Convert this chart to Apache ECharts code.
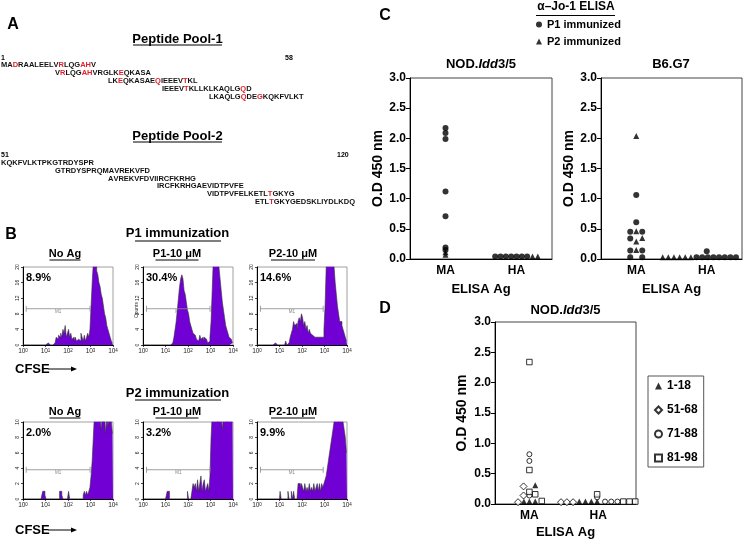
<!DOCTYPE html>
<html><head><meta charset="utf-8">
<script src="https://cdn.jsdelivr.net/npm/echarts@6.0.0/dist/echarts.min.js"></script>
<style>html,body{margin:0;padding:0;background:#fff}#c{width:746px;height:542px}</style>
</head><body><div id="c"></div>
<script>
// ================= DATA =================
// Panel A: peptide sequences (red = highlighted residues, 0-based index)
const pool1Lines = ['MADRAALEELVRLQGAHV','VRLQGAHVRGLKEQKASA','LKEQKASAEQIEEEVTKL','IEEEVTKLLKLKAQLGQD','LKAQLGQDEGKQKFVLKT'];
const pool1Red = [[2,11,15,16],[1,5,6,12],[2,9,15],[5,16],[6,9]];
const pool2Lines = ['KQKFVLKTPKGTRDYSPR','GTRDYSPRQMAVREKVFD','AVREKVFDVIIRCFKRHG','IRCFKRHGAEVIDTPVFE','VIDTPVFELKETLTGKYG','ETLTGKYGEDSKLIYDLKDQ'];
const pool2Red = [[],[],[],[],[13],[3]];

// Panel B: CFSE histograms, counts per channel, channels at log10 = 0,0.05,...,4
const hP1NoAg = [0,0,0,0,0,0,0,0,0,0, 0,0,0,0,0,0,0,0,0,0, 0,0,0.5,1,0,0,0,0,0.5,1, 2,1.5,2.5,2,3,2,4,3,5,2, 3,4,2,3,1.5,2,1,2,1,1.5, 2,1,3,2,1,2.5,1,2,3,2, 4,10,16,21,22,22,19,18,16,15, 13,12,10,8,7,5,4,3,2,1, 0.5];
const hP1Pep1 = [0,0,0,0,0,0,0,0,0,0, 0,0,0,0,0,0,0,0,0,0, 0,0,0,0.5,0,0,0.5,1,2,4, 6,9,12,15,17,18,17,14,13,11, 9,8,6,5,4,3,2.5,2,1.5,1, 1.5,2.5,1.5,2,1,2,1.5,1,0.5,1, 2,6,14,22,22,22,22,22,20,17, 14,11,9,7,5,4,3,2,1.5,1, 0.5];
const hP1Pep2 = [0,0,0,0,0,0,0,0,0,0, 0,0,0,0,0,0,0.5,0,0,0, 0,0,0,0,0,0,1,0,0.5,1, 2,3,4,6,5,5.5,4,6,7,6, 8,7,5,6,4,5,3,4,3,2.5, 3,2,2.5,2,1.5,2,1.5,2,1.5,2, 4,10,20,22,22,22,22,22,22,20, 16,13,10,8,6,6,5,4,3,2, 1];
const hP2NoAg = [0,0,0,0,0,0,0,0,0,0, 0,0,0,0,0,0,0,0,1,1, 0.5,0,0,0,0,0,0,0,0,0, 0,0,0,1,1,0.5,0,0,0,0, 0,1,0,0,0,0,0,0,0,0, 0,0,0,0,0.5,1,0.5,1,0.5,1, 1.5,3,5,8,11,11,11,11,10.5,11, 9,11,10,11,8.5,11,9.5,11,11,10, 8.5];
const hP2Pep1 = [0,0,0,0,0,0,0,0,0,0, 0,0,0,0,0,0,0,0,0,0, 0,0,1,1,0,0,0,0,0,0, 0,0,0,0,0,0,0,0,0,0, 1,0,0,0,1,2,1.5,2,1,2.5, 1,2,3,1,2,2.5,1,1.5,2,1, 3,8,11,11,11,11,11,10,11,11, 11,9,11,11,11,10,11,11,11,11, 11];
const hP2Pep2 = [0,0,0,0,0,0,0,0,0,0, 0,0,0,0,0,0,0,0,0,0, 0,1,0,0,0,0,0,0,1,0, 0,1,0,1,0,0,0,2,2,1.5, 2,1.5,1,2,1,1.5,1,2,1,1.5, 1,2,1,1.5,2,1,2,1,2,1.5, 2,2.5,3,4,5,6,7,8,9,10, 11,11,11,10,11,11,11,10,9,8, 6];
const histTitles = ['No Ag', 'P1-10 \u03bcM', 'P2-10 \u03bcM'];
const pctTop = ['8.9%', '30.4%', '14.6%'];
const pctBottom = ['2.0%', '3.2%', '9.9%'];
const m1Gate = [[0.14, 2.98], [0.16, 2.98], [0.15, 2.94]];   // log10 gate bounds
const m1LevelTop = 9.3, m1LevelBottom = 3.8;
const histYMaxTop = 20, histYMaxBottom = 10;

// Panel C / D: ELISA, points [category index, jitter, O.D 450]
const elisaCategories = ['MA', 'HA'];
const c1P1 = [[0,0,2.17],[0,0,2.09],[0,0,1.99],[0,0,1.12],[0,0,0.71],[0,0,0.19],[0,0,0.15],
  [1,-0.6,0.04],[1,-0.45,0.04],[1,-0.3,0.04],[1,-0.15,0.04],[1,0,0.04],[1,0.15,0.04],[1,0.3,0.04]];
const c1P2 = [[0,0,0.11],[0,0,0.07],[1,0.45,0.04],[1,0.6,0.04]];
const c2P1 = [[0,0,1.06],[0,0,0.61],[0,-0.17,0.45],[0,0.17,0.45],[0,-0.17,0.34],[0,-0.17,0.14],[0,0.17,0.14],[0,-0.17,0.03],[0,0.17,0.03],
  [1,-0.29,0.03],[1,-0.13,0.03],[1,0.03,0.03],[1,0.19,0.03],[1,0.35,0.03],[1,0.51,0.03],[1,0.67,0.03],[1,0.83,0.03],[1,0.0,0.13]];
const c2P2 = [[0,0,2.04],[0,0,0.46],[0,0,0.29],[0,0.17,0.35],[0,0,0.15],
  [1,-1.25,0.03],[1,-1.09,0.03],[1,-0.93,0.03],[1,-0.77,0.03],[1,-0.61,0.03],[1,-0.45,0.03]];
const d118 = [[0,-0.16,0.04],[0,0,0.04],[0,0.17,0.04],[0,0.17,0.31],[1,-0.55,0.04],[1,-0.37,0.04],[1,-0.2,0.04],[1,-0.03,0.04]];
const d5168 = [[0,-0.33,0.03],[0,-0.17,0.29],[0,-0.17,0.14],[1,-1.08,0.03],[1,-0.91,0.03],[1,-0.73,0.03]];
const d7188 = [[0,0,0.82],[0,0,0.71],[0,0,0.14],[1,-0.03,0.11],[1,0.2,0.04],[1,0.38,0.04],[1,0.56,0.04]];
const d8198 = [[0,0,2.34],[0,0,0.56],[0,0,0.20],[0,0.17,0.16],[0,0.36,0.05],[1,-0.03,0.16],[1,0.73,0.04],[1,0.91,0.04],[1,1.08,0.04]];

// ================= CHART =================
const FONT = '"Liberation Sans", Arial, Helvetica, sans-serif';
const PURPLE = '#7100d4';
const RED = '#e0202a';
const chart = echarts.init(document.getElementById('c'), null, {renderer: 'canvas', width: 746, height: 542});

const channel = hP1NoAg.map((_, i) => i / 20);
const catX = (c) => 1 + 2 * c;
const toXY = (arr) => arr.map(p => [catX(p[0]) + p[1], p[2]]);

const grids = [], xAxes = [], yAxes = [], series = [], g = [];
function txt(x, y, text, size, extra) {
  return Object.assign({type: 'text', x, y, silent: true, style: Object.assign({text, fill: '#000', fontSize: size, fontWeight: 'bold', fontFamily: FONT, align: 'center', verticalAlign: 'middle'}, (extra || {}))});
}
function ln(x1, y1, x2, y2, w, c) {
  return {type: 'line', silent: true, shape: {x1, y1, x2, y2}, style: {stroke: c || '#000', lineWidth: w || 1}};
}

// ---- Histograms ----
const histLefts = [23, 143, 257];
const histRows = [
  {top: 267, h: 78, data: [hP1NoAg, hP1Pep1, hP1Pep2], ymax: histYMaxTop, m1: m1LevelTop},
  {top: 422, h: 77, data: [hP2NoAg, hP2Pep1, hP2Pep2], ymax: histYMaxBottom, m1: m1LevelBottom}
];
histRows.forEach((row, r) => {
  row.data.forEach((counts, k) => {
    const gi = grids.length;
    grids.push({left: histLefts[k], top: row.top, width: 90, height: row.h, show: true, borderColor: '#888', borderWidth: 0.8, backgroundColor: 'transparent', outerBoundsMode: 'none'});
    xAxes.push({gridIndex: gi, type: 'value', min: 0, max: 4, interval: 1,
      axisLine: {lineStyle: {color: '#000', width: 1}}, axisTick: {length: 2, lineStyle: {color: '#000', width: 0.7}},
      splitLine: {show: false},
      axisLabel: {margin: 3, color: '#222', fontSize: 6.5, fontFamily: FONT, formatter: v => '10{s|' + v + '}',
        rich: {s: {fontSize: 4.5, verticalAlign: 'top', fontFamily: FONT, color: '#222'}}}});
    yAxes.push({gridIndex: gi, type: 'value', min: 0, max: row.ymax, interval: row.ymax / 5,
      axisLine: {show: true, lineStyle: {color: '#000', width: 1}}, axisTick: {show: true, length: 2, lineStyle: {color: '#000', width: 0.7}},
      splitLine: {show: false},
      axisLabel: {fontSize: 5, rotate: 90, margin: 3, color: '#222', fontFamily: FONT}});
    series.push({type: 'line', xAxisIndex: gi, yAxisIndex: gi, step: 'middle', symbol: 'none', clip: true, silent: true,
      data: counts.map((c, i) => [channel[i], c]),
      lineStyle: {color: '#333', width: 0.6}, areaStyle: {color: PURPLE, opacity: 1}});
    series.push({type: 'line', xAxisIndex: gi, yAxisIndex: gi, symbol: 'rect', symbolSize: [0.8, 6], silent: true,
      data: [[m1Gate[k][0], row.m1], [m1Gate[k][1], row.m1]],
      lineStyle: {color: '#888', width: 0.8}, itemStyle: {color: '#888'}});
    series.push({type: 'scatter', xAxisIndex: gi, yAxisIndex: gi, symbolSize: 0, silent: true,
      data: [[(m1Gate[k][0] + m1Gate[k][1]) / 2, row.m1]],
      label: {show: true, formatter: 'M1', position: 'bottom', distance: 1, fontSize: 4.5, color: '#666', fontFamily: FONT}});
    g.push(txt(histLefts[k] + 3, row.top + 11, (r === 0 ? pctTop : pctBottom)[k], 11, {align: 'left'}));
  });
});
g.push(Object.assign(txt(136.5, 310, 'Counts', 5, {fontWeight: 'normal', fill: '#333'}), {rotation: Math.PI / 2}));

// ---- ELISA plots ----
function elisaGrid(left, top, width, height, xmax, nameGapY, nameGapX) {
  const gi = grids.length;
  grids.push({left, top, width, height, show: true, borderColor: '#444', borderWidth: 1, backgroundColor: 'transparent', outerBoundsMode: 'none'});
  xAxes.push({gridIndex: gi, type: 'value', min: 0, max: xmax,
    axisLine: {lineStyle: {color: '#000', width: 1}}, axisTick: {show: false}, splitLine: {show: false},
    axisLabel: {customValues: elisaCategories.map((c, i) => catX(i)), formatter: v => elisaCategories[(v - 1) / 2],
      fontSize: 12, fontWeight: 'bold', color: '#000', fontFamily: FONT, margin: 6},
    name: 'ELISA Ag', nameLocation: 'middle', nameGap: nameGapX,
    nameTextStyle: {fontSize: 13, fontWeight: 'bold', color: '#000', fontFamily: FONT}});
  yAxes.push({gridIndex: gi, type: 'value', min: 0, max: 3, interval: 0.5,
    axisLine: {show: true, lineStyle: {color: '#000', width: 1}},
    axisTick: {show: true, length: 4, lineStyle: {color: '#000'}}, splitLine: {show: false},
    axisLabel: {formatter: v => v.toFixed(1), fontSize: 12, fontWeight: 'bold', color: '#000', fontFamily: FONT, margin: 4},
    name: 'O.D 450 nm', nameLocation: 'middle', nameGap: nameGapY,
    nameTextStyle: {fontSize: 14, fontWeight: 'bold', color: '#000', fontFamily: FONT}});
  return gi;
}
const gC1 = elisaGrid(410, 78, 142, 181, 4, 22, 24);
const gC2 = elisaGrid(601, 78, 141, 181, 4, 22, 24);
const gD = elisaGrid(495, 322, 141, 182, 4.1, 26, 22);

const filled = {color: '#000'};
const hollow = {color: '#fff', borderColor: '#000', borderWidth: 1};
function sc(name, gi, data, symbol, size, style) {
  series.push({name, type: 'scatter', xAxisIndex: gi, yAxisIndex: gi, symbol, symbolSize: size, data: toXY(data), itemStyle: style, z: 5});
}
sc('P1 immunized', gC1, c1P1, 'circle', 6, filled);
sc('P2 immunized', gC1, c1P2, 'triangle', 6, filled);
sc('P1 immunized', gC2, c2P1, 'circle', 6, filled);
sc('P2 immunized', gC2, c2P2, 'triangle', 6, filled);
sc('1-18', gD, d118, 'triangle', 6, filled);
sc('51-68', gD, d5168, 'diamond', 7, hollow);
sc('71-88', gD, d7188, 'circle', 5, hollow);
sc('81-98', gD, d8198, 'rect', 5.5, hollow);

// ---- Text / annotations ----
g.push(txt(13, 25, 'A', 16));
g.push(txt(11, 235, 'B', 16));
g.push(txt(385, 16, 'C', 16));
g.push(txt(385, 309, 'D', 16));

// Panel A
g.push(txt(177.5, 39, 'Peptide Pool-1', 13));
g.push(ln(133, 45, 222, 45, 1));
g.push(txt(177.5, 136, 'Peptide Pool-2', 13));
g.push(ln(133, 142, 222, 142, 1));
const smallSeq = {fontSize: 7.5, fontWeight: 'bold', fontFamily: FONT, fill: '#111'};
g.push(txt(1, 58, '1', 7, {align: 'left'}));
g.push(txt(285, 58, '58', 7, {align: 'left'}));
g.push(txt(1, 155, '51', 7, {align: 'left'}));
g.push(txt(337, 155, '120', 7, {align: 'left'}));
function seqText(x, y, seq, red) {
  let s = '';
  for (let i = 0; i < seq.length; i++) s += red.includes(i) ? '{r|' + seq[i] + '}' : '{k|' + seq[i] + '}';
  g.push({type: 'text', x, y, silent: true, style: {text: s, align: 'left', verticalAlign: 'middle',
    fontSize: 7.5, fontWeight: 'bold', fontFamily: FONT, fill: '#111',
    rich: {k: Object.assign({}, smallSeq), r: Object.assign({}, smallSeq, {fill: RED})}}});
}
const pool1X = [1, 55, 108, 162, 209], pool1Y = [65, 73, 81, 89, 97];
pool1Lines.forEach((s, i) => seqText(pool1X[i], pool1Y[i], s, pool1Red[i]));
const pool2X = [1, 55, 108, 157, 207, 255], pool2Y = [163, 171, 178.5, 186, 194, 201.5];
pool2Lines.forEach((s, i) => seqText(pool2X[i], pool2Y[i], s, pool2Red[i]));

// Panel B headers
g.push(txt(177.5, 233, 'P1 immunization', 13));
g.push(ln(135, 241, 221, 241, 1));
g.push(txt(177.5, 393, 'P2 immunization', 13));
g.push(ln(135, 400, 221, 400, 1));
const subCenters = [65, 177, 293], subHalf = [15.5, 21.5, 22];
[254, 412].forEach((yy) => {
  histTitles.forEach((t, k) => {
    g.push(txt(subCenters[k], yy, t, 11));
    g.push(ln(subCenters[k] - subHalf[k], yy + 6, subCenters[k] + subHalf[k], yy + 6, 1));
  });
});
[369, 530].forEach((yy) => {
  g.push(txt(15, yy, 'CFSE', 13, {align: 'left'}));
  g.push(ln(48, yy, 72, yy, 1));
  g.push({type: 'polygon', silent: true, shape: {points: [[71, yy - 2.5], [77, yy], [71, yy + 2.5]]}, style: {fill: '#000'}});
});

// Panel C header
g.push(txt(576, 7, '\u03b1\u2013Jo-1 ELISA', 12));
g.push(ln(536, 15.5, 615, 15.5, 1));
function plotTitle(cx, cy) {
  g.push({type: 'text', x: cx, y: cy, silent: true, style: {
    text: '{b|NOD.}{i|Idd}{b|3/5}', align: 'center', verticalAlign: 'middle',
    rich: {b: {fontSize: 13, fontWeight: 'bold', fontFamily: FONT, fill: '#000'},
           i: {fontSize: 13, fontWeight: 'bold', fontStyle: 'italic', fontFamily: FONT, fill: '#000'}}}});
}
plotTitle(481, 64);
g.push(txt(671, 64, 'B6.G7', 13));
plotTitle(565.5, 310);

const option = {
  animation: false,
  backgroundColor: '#fff',
  textStyle: {fontFamily: FONT},
  grid: grids, xAxis: xAxes, yAxis: yAxes, series,
  legend: [
    {data: ['P1 immunized', 'P2 immunized'], orient: 'vertical', left: 536, top: 19, itemWidth: 6, itemHeight: 6, itemGap: 6,
     padding: 0, selectedMode: false, textStyle: {fontSize: 11, fontWeight: 'bold', color: '#000', fontFamily: FONT}},
    {data: ['1-18', '51-68', '71-88', '81-98'], orient: 'vertical', left: 648, top: 376, itemWidth: 7, itemHeight: 7, itemGap: 12,
     padding: [4, 6, 3, 6], borderColor: '#555', borderWidth: 1, selectedMode: false,
     textStyle: {fontSize: 12, fontWeight: 'bold', color: '#000', fontFamily: FONT}}
  ],
  graphic: g
};
chart.setOption(option);
</script></body></html>
